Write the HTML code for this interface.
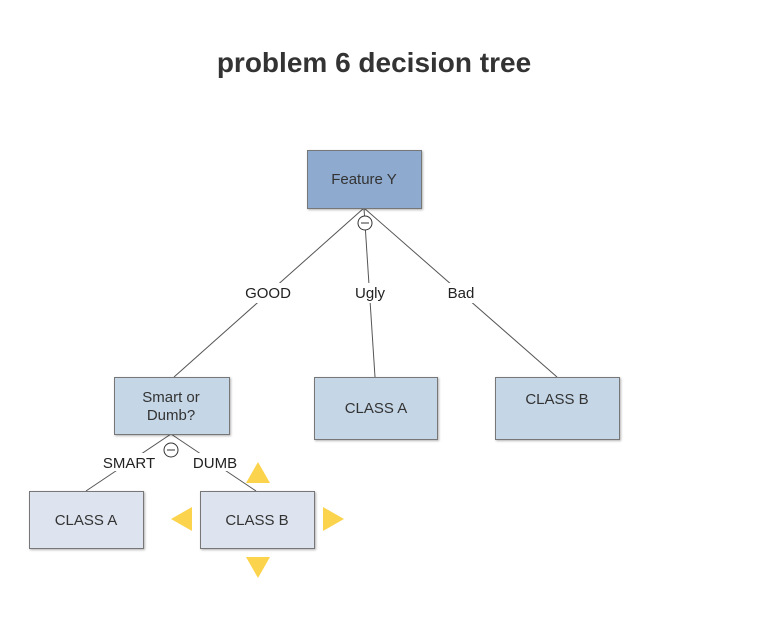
<!DOCTYPE html>
<html><head><style>
body{margin:0;background:#fff;width:758px;height:616px;overflow:hidden}
</style></head><body>
<svg width="758" height="616" xmlns="http://www.w3.org/2000/svg" font-family="Liberation Sans, Arial, sans-serif">
<text x="374" y="72" text-anchor="middle" font-size="28" font-weight="bold" fill="#333">problem 6 decision tree</text>
<g stroke="#555" stroke-width="1" fill="none">
<line x1="364" y1="208" x2="174" y2="377"/>
<line x1="364" y1="208" x2="375" y2="377"/>
<line x1="364" y1="208" x2="557" y2="377"/>
<line x1="171" y1="434" x2="86" y2="491"/>
<line x1="171" y1="434" x2="256" y2="491"/>
</g>
<g font-size="15" fill="#222" text-anchor="middle">
<rect x="238" y="283" width="60" height="20" fill="#fff"/>
<text x="268" y="298">GOOD</text>
<rect x="350" y="283" width="40" height="20" fill="#fff"/>
<text x="370" y="298">Ugly</text>
<rect x="442" y="283" width="38" height="20" fill="#fff"/>
<text x="461" y="298">Bad</text>
<rect x="98" y="453" width="62" height="18" fill="#fff"/>
<text x="129" y="468">SMART</text>
<rect x="188" y="453" width="54" height="18" fill="#fff"/>
<text x="215" y="468">DUMB</text>
</g>
<g stroke="#333" fill="#fff" stroke-width="1">
<circle cx="365" cy="223" r="7"/><line x1="361" y1="223" x2="369" y2="223"/>
<circle cx="171" cy="450" r="7"/><line x1="167" y1="450" x2="175" y2="450"/>
</g>
<g stroke="#777" stroke-width="1" style="filter:drop-shadow(1px 1px 1px rgba(0,0,0,.3))">
<rect x="307.5" y="150.5" width="114" height="58" fill="#8eaacf"/>
<rect x="114.5" y="377.5" width="115" height="57" fill="#c5d6e6"/>
<rect x="314.5" y="377.5" width="123" height="62" fill="#c5d6e6"/>
<rect x="495.5" y="377.5" width="124" height="62" fill="#c5d6e6"/>
<rect x="29.5" y="491.5" width="114" height="57" fill="#dde4ef"/>
<rect x="200.5" y="491.5" width="114" height="57" fill="#dde4ef"/>
</g>
<g font-size="15" fill="#333" text-anchor="middle">
<text x="364" y="184">Feature Y</text>
<text x="171" y="402">Smart or</text>
<text x="171" y="420">Dumb?</text>
<text x="376" y="413">CLASS A</text>
<text x="557" y="404">CLASS B</text>
<text x="86" y="525">CLASS A</text>
<text x="257" y="525">CLASS B</text>
</g>
<g fill="#fcd34d">
<polygon points="258,462 270,483 246,483"/>
<polygon points="258,578 270,557 246,557"/>
<polygon points="171,519 192,507 192,531"/>
<polygon points="344,519 323,507 323,531"/>
</g>
</svg>
</body></html>
